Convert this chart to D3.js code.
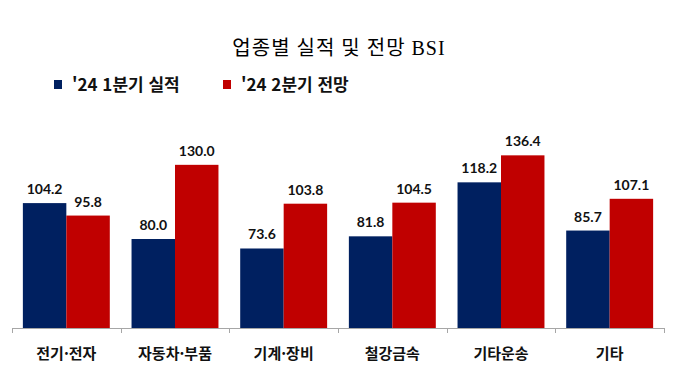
<!DOCTYPE html>
<html lang="ko">
<head>
<meta charset="utf-8">
<title>업종별 실적 및 전망 BSI</title>
<script src="https://d3js.org/d3.v7.min.js"></script>
<style>
  body { margin: 0; background: #fff; }
  svg { display: block; }
  .title { font-family: "Liberation Serif", "Noto Sans CJK KR", serif; font-size: 20px; letter-spacing: 1px; fill: #000; }
  .legend { font-family: "Noto Sans CJK KR", sans-serif; font-weight: bold; font-size: 17px; fill: #111; }
  .val { font-family: Lato, "Open Sans", sans-serif; font-weight: bold; font-size: 14px; fill: #111; }
  .cat { font-family: "Noto Sans CJK KR", sans-serif; font-weight: bold; font-size: 15px; fill: #111; }
</style>
</head>
<body>
<div id="chart"></div>
<script>
const categories = ["전기·전자", "자동차·부품", "기계·장비", "철강금속", "기타운송", "기타"];
const seriesNames = ["'24 1분기 실적", "'24 2분기 전망"];
const actual = [104.2, 80.0, 73.6, 81.8, 118.2, 85.7];
const outlook = [95.8, 130.0, 103.8, 104.5, 136.4, 107.1];
const colors = ["#002060", "#C00000"];

const W = 680, H = 384;
const left = 12, right = 664, base = 328;

const svg = d3.select("#chart").append("svg")
  .attr("width", W).attr("height", H);

svg.append("text").attr("class", "title")
  .attr("x", 339).attr("y", 55).attr("text-anchor", "middle")
  .text("업종별 실적 및 전망 BSI");

// legend
const lx = [54, 223];
seriesNames.forEach((n, i) => {
  svg.append("rect").attr("x", lx[i]).attr("y", 80)
    .attr("width", 8).attr("height", 9).attr("fill", colors[i]);
  svg.append("text").attr("class", "legend")
    .attr("x", lx[i] + 18).attr("y", 91).text(n);
});

const x = d3.scaleBand().domain(categories)
  .range([left, right]).paddingInner(0.2).paddingOuter(0.1);
const x1 = d3.scaleBand().domain([0, 1]).range([0, x.bandwidth()]);
const y = d3.scaleLinear().domain([20, 140]).range([base, 150]);

const data = categories.map((c, i) => ({ cat: c, vals: [actual[i], outlook[i]] }));

const g = svg.selectAll("g.grp").data(data).enter().append("g")
  .attr("class", "grp")
  .attr("transform", d => `translate(${x(d.cat)},0)`);

g.selectAll("rect").data(d => d.vals).enter().append("rect")
  .attr("x", (d, i) => x1(i))
  .attr("y", d => y(d))
  .attr("width", x1.bandwidth())
  .attr("height", d => base - y(d))
  .attr("fill", (d, i) => colors[i]);

g.selectAll("text.val").data(d => d.vals).enter().append("text")
  .attr("class", "val")
  .attr("x", (d, i) => x1(i) + x1.bandwidth() / 2)
  .attr("y", d => y(d) - 9)
  .attr("text-anchor", "middle")
  .text(d => d.toFixed(1));

// axis line with ticks between categories
const step = x.step();
svg.append("line").attr("x1", left).attr("x2", right)
  .attr("y1", base + 0.5).attr("y2", base + 0.5)
  .attr("stroke", "#a6a6a6").attr("stroke-width", 1);
d3.range(categories.length + 1).forEach(i => {
  const tx = Math.round(left + i * step) + 0.5;
  svg.append("line").attr("x1", tx).attr("x2", tx)
    .attr("y1", base).attr("y2", base + 5)
    .attr("stroke", "#a6a6a6");
});

svg.selectAll("text.cat").data(categories).enter().append("text")
  .attr("class", "cat")
  .attr("x", d => x(d) + x.bandwidth() / 2)
  .attr("y", 359)
  .attr("text-anchor", "middle")
  .text(d => d);
</script>
</body>
</html>
